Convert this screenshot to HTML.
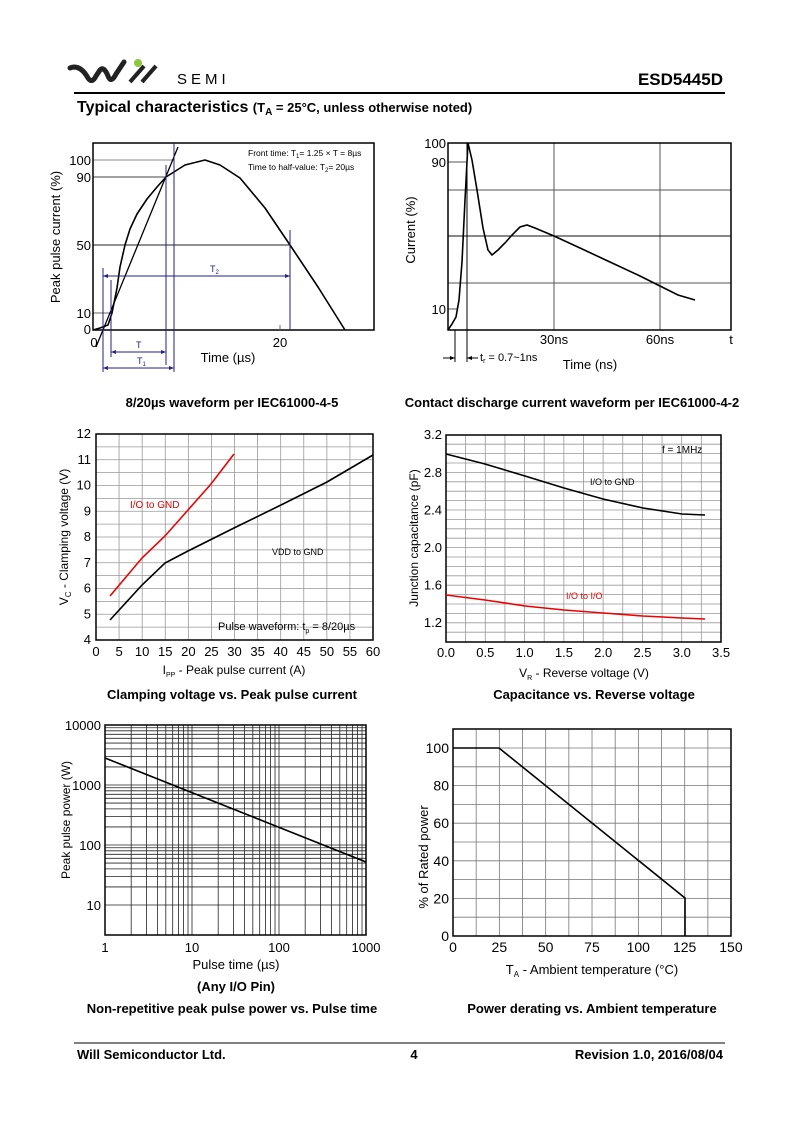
<!DOCTYPE html>
<html><head><meta charset="utf-8"><style>
html,body{margin:0;padding:0;background:#fff}
svg{display:block}
text{font-family:"Liberation Sans",Arial,sans-serif;fill:#000}
.b{font-weight:bold}
</style></head><body>
<svg id="s" width="800" height="1131" viewBox="0 0 800 1131" xmlns="http://www.w3.org/2000/svg">
<!-- header -->
<path d="M70,68 Q80,64 88,78 Q92,84 96,76 L100,70 Q104,66 108,76 Q111,84 116,74 L124,62" fill="none" stroke="#222" stroke-width="5" stroke-linecap="round"/>
<line x1="130" y1="82" x2="144" y2="66" stroke="#222" stroke-width="4"/>
<line x1="142" y1="82" x2="156" y2="66" stroke="#222" stroke-width="4"/>
<circle cx="138" cy="63" r="4" fill="#8dc63f"/>
<text x="177" y="84" font-size="15" letter-spacing="4" fill="#222">SEMI</text>
<text x="723" y="85" font-size="17" class="b" text-anchor="end">ESD5445D</text>
<line x1="74" y1="93" x2="725" y2="93" stroke="#000" stroke-width="2"/>
<text x="77" y="112" class="b" font-size="16">Typical characteristics <tspan font-size="13">(T<tspan font-size="10" dy="3">A</tspan><tspan dy="-3"> = 25°C, unless otherwise noted)</tspan></tspan></text>

<!-- Chart 1 -->
<g font-size="13">
<line x1="93" y1="160" x2="174" y2="160" stroke="#888"/>
<line x1="93" y1="177" x2="166" y2="177" stroke="#444"/>
<line x1="93" y1="245" x2="290" y2="245" stroke="#222"/>
<line x1="93" y1="313" x2="111" y2="313" stroke="#666"/>
<rect x="93" y="143" width="281" height="187" fill="none" stroke="#000" stroke-width="1.5"/>
<line x1="280" y1="325" x2="280" y2="330" stroke="#666"/>
<path d="M93,330 L100,328 L108,325 L112,313 L117,288 L120,267 L125,245 L130,229 L137,214 L147,199 L157,187 L166,177 L185,165 L205,160 L220,165 L240,178 L265,208 L290,245 L318,287 L345,330" fill="none" stroke="#000" stroke-width="1.6" stroke-linejoin="round"/>
<line x1="96" y1="347" x2="178" y2="147" stroke="#000" stroke-width="1.3"/>
<g stroke="#22228a" stroke-width="1" fill="#22228a">
<line x1="103" y1="268" x2="103" y2="372"/>
<line x1="111" y1="280" x2="111" y2="357"/>
<line x1="166" y1="165" x2="166" y2="365"/>
<line x1="174" y1="143" x2="174" y2="372"/>
<line x1="290" y1="230" x2="290" y2="330"/>
<line x1="103" y1="276" x2="290" y2="276"/>
<line x1="111" y1="352" x2="166" y2="352"/>
<line x1="103" y1="368" x2="174" y2="368"/>
<path d="M103,276 l5,-2 v4z M290,276 l-5,-2 v4z M111,352 l5,-2 v4z M166,352 l-5,-2 v4z M103,368 l5,-2 v4z M174,368 l-5,-2 v4z" stroke="none"/>
</g>
<text x="210" y="272" font-size="9" style="fill:#22228a">T<tspan font-size="6" dy="2">2</tspan></text>
<text x="136" y="348" font-size="9" style="fill:#22228a">T</text>
<text x="137" y="364" font-size="9" style="fill:#22228a">T<tspan font-size="6" dy="2">1</tspan></text>
<text x="248" y="156" font-size="8.5">Front time: T<tspan font-size="6" dy="2">1</tspan><tspan dy="-2">= 1.25 × T = 8µs</tspan></text>
<text x="248" y="170" font-size="8.5">Time to half-value: T<tspan font-size="6" dy="2">2</tspan><tspan dy="-2">= 20µs</tspan></text>
<g text-anchor="end"><text x="91" y="165">100</text><text x="91" y="182">90</text><text x="91" y="250">50</text><text x="91" y="318">10</text><text x="91" y="334">0</text></g>
<text x="94" y="347" text-anchor="middle">0</text><text x="280" y="347" text-anchor="middle">20</text>
<text x="228" y="362" text-anchor="middle">Time (µs)</text>
<text transform="translate(60,237) rotate(-90)" text-anchor="middle">Peak pulse current (%)</text>
</g>

<!-- Chart 2 -->
<g font-size="13">
<g stroke="#555"><line x1="554" y1="143" x2="554" y2="330"/><line x1="660" y1="143" x2="660" y2="330"/>
<line x1="448" y1="190" x2="731" y2="190"/><line x1="448" y1="283" x2="731" y2="283"/></g>
<line x1="448" y1="236" x2="731" y2="236" stroke="#111"/>
<line x1="448" y1="162" x2="467" y2="162" stroke="#555"/>
<line x1="448" y1="309" x2="457" y2="309" stroke="#555"/>
<rect x="448" y="143" width="283" height="187" fill="none" stroke="#000" stroke-width="1.5"/>
<path d="M448,330 L452,324 L456,317 L459,300 L462,262 L465,200 L468,143 L472,160 L477,190 L483,228 L488,250 L492,255 L498,250 L505,243 L512,235 L520,227 L527,225 L535,228 L554,236 L580,248 L610,262 L640,276 L660,286 L678,295 L695,300" fill="none" stroke="#000" stroke-width="1.6"/>
<line x1="455" y1="330" x2="455" y2="362" stroke="#000"/>
<line x1="467" y1="143" x2="467" y2="362" stroke="#000"/>
<line x1="443" y1="358" x2="455" y2="358" stroke="#000"/><path d="M455,358 l-5,-2 v4z"/>
<line x1="467" y1="358" x2="478" y2="358" stroke="#000"/><path d="M467,358 l5,-2 v4z"/>
<text x="480" y="361" font-size="11">t<tspan font-size="7" dy="2">r</tspan><tspan dy="-2"> = 0.7~1ns</tspan></text>
<g text-anchor="end"><text x="446" y="148">100</text><text x="446" y="167">90</text><text x="446" y="314">10</text></g>
<text x="554" y="344" text-anchor="middle">30ns</text><text x="660" y="344" text-anchor="middle">60ns</text><text x="731" y="344" text-anchor="middle">t</text>
<text x="590" y="369" text-anchor="middle">Time (ns)</text>
<text transform="translate(415,230) rotate(-90)" text-anchor="middle">Current (%)</text>
</g>

<g class="b" font-size="13" text-anchor="middle">
<text x="232" y="407">8/20µs waveform per IEC61000-4-5</text>
<text x="572" y="407">Contact discharge current waveform per IEC61000-4-2</text>
<text x="232" y="699">Clamping voltage vs. Peak pulse current</text>
<text x="594" y="699">Capacitance vs. Reverse voltage</text>
<text x="236" y="991">(Any I/O Pin)</text>
<text x="232" y="1013">Non-repetitive peak pulse power vs. Pulse time</text>
<text x="592" y="1013">Power derating vs. Ambient temperature</text>
</g>

<g id="grids" stroke="#999" stroke-width="0.8"></g>

<!-- Chart 3 -->
<g font-size="13">
<rect x="96" y="434" width="277" height="206" fill="none" stroke="#000" stroke-width="1.5"/>
<polyline points="110,620 142,585 165,563 188,551 234,528 281,505 327,482 373,455" fill="none" stroke="#000" stroke-width="1.6"/>
<polyline points="110,596 142,558 165,536 188,510 211,484 234,454" fill="none" stroke="#e00" stroke-width="1.6"/>
<text x="130" y="508" font-size="10" style="fill:#e00">I/O to GND</text>
<text x="272" y="555" font-size="9">VDD to GND</text>
<text x="218" y="630" font-size="11">Pulse waveform: t<tspan font-size="7" dy="3">p</tspan><tspan dy="-3"> = 8/20µs</tspan></text>
<g id="c3x" text-anchor="middle"></g><g id="c3y" text-anchor="end"></g>
<text x="234" y="674" text-anchor="middle" font-size="12">I<tspan font-size="7" dy="3">PP</tspan><tspan dy="-3"> - Peak pulse current (A)</tspan></text>
<text transform="translate(68,537) rotate(-90)" text-anchor="middle" font-size="12">V<tspan font-size="8" dy="3">C</tspan><tspan dy="-3"> - Clamping voltage (V)</tspan></text>
</g>

<!-- Chart 4 -->
<g font-size="13">
<rect x="446" y="435" width="275" height="207" fill="none" stroke="#000" stroke-width="1.5"/>
<polyline points="446,454 485,464 525,476 564,488 603,499 643,508 682,514 705,515" fill="none" stroke="#000" stroke-width="1.6"/>
<polyline points="446,595 485,600 525,606 564,610 603,613 643,616 682,618 705,619" fill="none" stroke="#e00" stroke-width="1.6"/>
<text x="662" y="453" font-size="10">f = 1MHz</text>
<text x="590" y="485" font-size="9">I/O to GND</text>
<text x="566" y="599" font-size="9" style="fill:#e00">I/O to I/O</text>
<g id="c4x" text-anchor="middle"></g><g id="c4y" text-anchor="end"></g>
<text x="584" y="677" text-anchor="middle" font-size="12">V<tspan font-size="7" dy="3">R</tspan><tspan dy="-3"> - Reverse voltage (V)</tspan></text>
<text transform="translate(418,538) rotate(-90)" text-anchor="middle" font-size="12">Junction capacitance (pF)</text>
</g>

<!-- Chart 5 -->
<g font-size="13">
<rect x="105" y="725" width="261" height="210" fill="none" stroke="#000" stroke-width="1.5"/>
<line x1="105" y1="758" x2="366" y2="862" stroke="#000" stroke-width="1.6"/>
<g text-anchor="end"><text x="101" y="730">10000</text><text x="101" y="790">1000</text><text x="101" y="850">100</text><text x="101" y="910">10</text></g>
<g text-anchor="middle"><text x="105" y="952">1</text><text x="192" y="952">10</text><text x="279" y="952">100</text><text x="366" y="952">1000</text></g>
<text x="236" y="969" text-anchor="middle">Pulse time (µs)</text>
<text transform="translate(70,820) rotate(-90)" text-anchor="middle" font-size="12">Peak pulse power (W)</text>
</g>

<!-- Chart 6 -->
<g font-size="14">
<rect x="453" y="729" width="278" height="207" fill="none" stroke="#000" stroke-width="1.5"/>
<polyline points="453,748 499,748 685,898 685,936" fill="none" stroke="#000" stroke-width="1.6"/>
<g id="c6x" text-anchor="middle"></g><g id="c6y" text-anchor="end"></g>
<text x="592" y="974" text-anchor="middle" font-size="13">T<tspan font-size="8" dy="3">A</tspan><tspan dy="-3"> - Ambient temperature (°C)</tspan></text>
<text transform="translate(428,857) rotate(-90)" text-anchor="middle" font-size="13">% of Rated power</text>
</g>

<!-- footer -->
<line x1="74" y1="1043" x2="725" y2="1043" stroke="#000" stroke-width="1"/>
<g class="b" font-size="13"><text x="77" y="1059">Will Semiconductor Ltd.</text>
<text x="414" y="1059" text-anchor="middle">4</text>
<text x="723" y="1059" text-anchor="end">Revision 1.0, 2016/08/04</text></g>
</svg>
<script>
var NS="http://www.w3.org/2000/svg",g=document.getElementById("grids");
function L(x1,y1,x2,y2,c){var l=document.createElementNS(NS,"line");l.setAttribute("x1",x1);l.setAttribute("y1",y1);l.setAttribute("x2",x2);l.setAttribute("y2",y2);if(c)l.setAttribute("stroke",c);g.appendChild(l);}
function T(id,x,y,s){var t=document.createElementNS(NS,"text");t.setAttribute("x",x);t.setAttribute("y",y);t.textContent=s;document.getElementById(id).appendChild(t);}
for(var v=5;v<60;v+=5)L(96+v*4.617,434,96+v*4.617,640);
for(var V=4.5;V<12;V+=0.5)L(96,640-(V-4)*25.75,373,640-(V-4)*25.75);
for(var v=0;v<=60;v+=5)T("c3x",96+v*4.617,656,v);
for(var V=4;V<=12;V++)T("c3y",91,644-(V-4)*25.75,V);
for(var i=1;i<14;i++)L(446+i*19.64,435,446+i*19.64,642);
for(var c=1.1;c<3.2;c+=0.1)L(446,641.6-(c-1)*94,721,641.6-(c-1)*94);
for(var i=0;i<=7;i++)T("c4x",446+i*39.3,657,(i*0.5).toFixed(1));
for(var c=1.2;c<=3.21;c+=0.4)T("c4y",442,646-(c-1)*94,c.toFixed(1));
for(var d=0;d<3;d++)for(var k=2;k<=10;k++){var x=105+(d+Math.log10(k))*87;if(x<365)L(x,725,x,935,"#222");}
for(var d=0;d<4;d++)for(var k=1;k<10;k++){var P=Math.pow(10,d)*k;var y=905-(Math.log10(P))*60;if(y>726&&y<934)L(105,y,366,y,"#222");}
for(var i=1;i<12;i++)L(453+i*23.17,729,453+i*23.17,936,"#777");
for(var p=10;p<=100;p+=10)L(453,936-p*1.88,731,936-p*1.88,"#777");
for(var T6=0;T6<=150;T6+=25)T("c6x",453+T6*1.853,952,T6);
for(var p=0;p<=100;p+=20)T("c6y",449,941-p*1.88,p);
</script>
</body></html>
